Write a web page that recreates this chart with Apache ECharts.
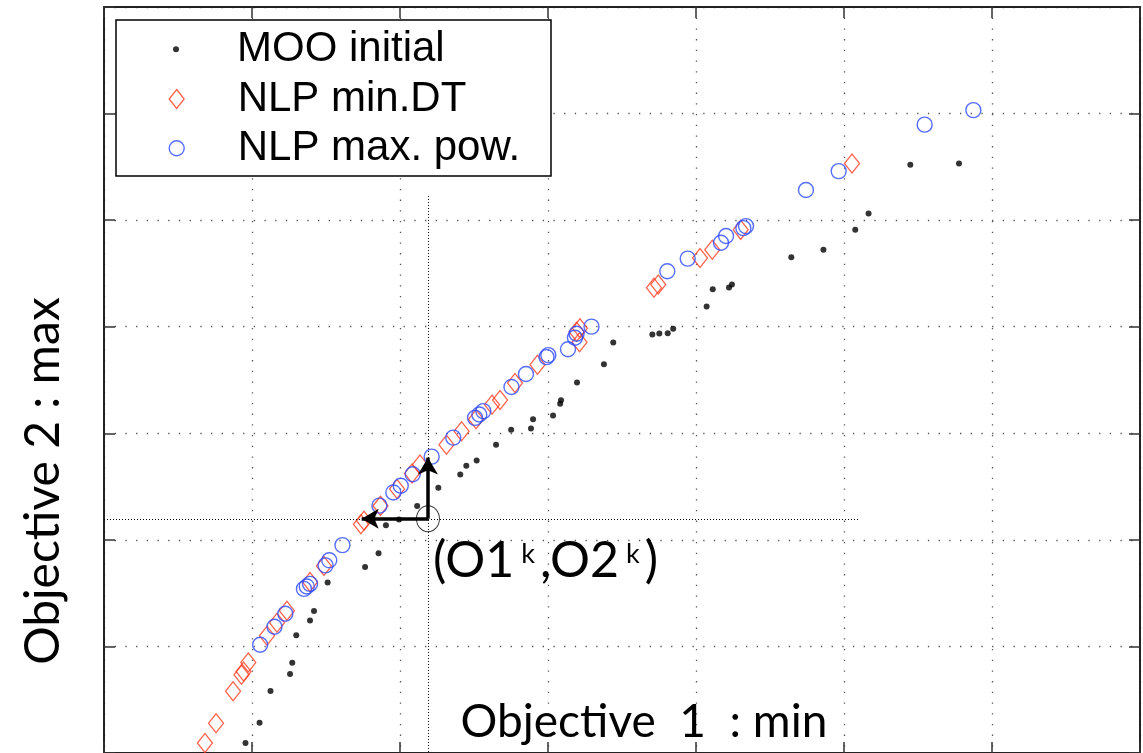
<!DOCTYPE html>
<html>
<head>
<meta charset="utf-8">
<style>
  html, body { margin: 0; padding: 0; background: #fff; }
  #main { width: 1143px; height: 753px; }
</style>
<script src="https://cdn.jsdelivr.net/npm/echarts@6/dist/echarts.min.js"></script>
</head>
<body>
<div id="main"></div>
<script>
// axes carry no numbers in the figure: one grid cell = one unit
const xMin = 0, xMax = 7, yMin = 0, yMax = 7, gridStep = 1;

// MOO initial front  [objective 1, objective 2]
const mooInitial = [
  [0.956, 0.093], [1.051, 0.285], [1.125, 0.581], [1.257, 0.742], [1.272, 0.847],
  [1.299, 1.106], [1.392, 1.244], [1.419, 1.332], [1.511, 1.599], [1.764, 1.745],
  [1.855, 1.874], [1.905, 2.136], [1.993, 2.191], [2.116, 2.317], [2.259, 2.489],
  [2.407, 2.613], [2.448, 2.695], [2.518, 2.744], [2.649, 2.893], [2.751, 3.033],
  [2.885, 3.046], [2.899, 3.131], [3.034, 3.167], [3.082, 3.276], [3.088, 3.311],
  [3.196, 3.477], [3.378, 3.647], [3.441, 3.852], [3.705, 3.927], [3.752, 3.936],
  [3.809, 3.939], [3.846, 3.981], [4.072, 4.189], [4.113, 4.352], [4.223, 4.368],
  [4.243, 4.396], [4.644, 4.651], [4.861, 4.723], [5.076, 4.909], [5.166, 5.063],
  [5.448, 5.519], [5.777, 5.532]
];

// NLP min. DT results
const nlpMinDT = [
  [0.682, 0.093], [0.757, 0.280], [0.872, 0.579], [0.929, 0.735], [0.943, 0.765],
  [0.975, 0.849], [1.101, 1.101], [1.169, 1.223], [1.236, 1.335], [1.392, 1.605],
  [1.486, 1.755], [1.736, 2.147], [1.757, 2.179], [1.868, 2.319], [1.980, 2.478],
  [2.081, 2.623], [2.135, 2.707], [2.314, 2.893], [2.416, 3.019], [2.514, 3.131],
  [2.622, 3.267], [2.676, 3.313], [2.777, 3.472], [2.929, 3.643], [3.193, 3.953],
  [3.213, 3.855], [3.216, 3.985], [3.716, 4.365], [3.745, 4.396], [4.027, 4.645],
  [4.110, 4.723], [4.302, 4.909], [5.054, 5.532]
];

// NLP max. power results
const nlpMaxPow = [
  [1.055, 1.016], [1.152, 1.185], [1.225, 1.307], [1.351, 1.540], [1.370, 1.563],
  [1.392, 1.587], [1.497, 1.761], [1.522, 1.808], [1.611, 1.951], [1.861, 2.321],
  [1.955, 2.445], [2.005, 2.508], [2.086, 2.616], [2.214, 2.781], [2.360, 2.959],
  [2.507, 3.145], [2.536, 3.176], [2.563, 3.208], [2.753, 3.435], [2.851, 3.556],
  [2.990, 3.715], [3.002, 3.733], [3.135, 3.789], [3.182, 3.897], [3.193, 3.934],
  [3.294, 4.001], [3.806, 4.520], [3.944, 4.639], [4.169, 4.788], [4.203, 4.851],
  [4.320, 4.925], [4.338, 4.944], [4.743, 5.283], [4.964, 5.460], [5.545, 5.896],
  [5.874, 6.032]
];

// reference point (O1k, O2k) and its guide lines / arrows
const refPoint = [2.189, 2.198];
const guideHEnd = 5.095;     // horizontal dotted guide ends at this objective 1
const guideVTop = 5.227;     // vertical dotted guide starts at this objective 2
const arrowLeftTo = 1.741;   // arrow towards lower objective 1
const arrowUpTo = 2.772;     // arrow towards higher objective 2

const RED = '#ff3a1e';
const BLUE = '#2a48ff';
const FONT_TITLE = 'Lato';

const chart = echarts.init(document.getElementById('main'));

function frameAxis(extra) {
  return Object.assign({
    type: 'value',
    min: xMin, max: xMax, interval: gridStep,
    axisLine: { show: true, onZero: false, lineStyle: { color: '#222', width: 2 } },
    axisTick: { show: true, inside: true, length: 11, lineStyle: { color: '#333', width: 1.5 } },
    axisLabel: { show: false },
    splitLine: { show: false }
  }, extra);
}

const dotGrid = { show: true, lineStyle: { color: '#555', width: 1.3, type: [1.3, 9.4] } };

chart.setOption({
  animation: false,
  grid: { left: 104, right: 3, top: 7, bottom: -4 },
  xAxis: [
    frameAxis({
      position: 'bottom',
      splitLine: dotGrid,
      name: 'Objective  1  : min',
      nameLocation: 'middle',
      nameGap: -54,
      nameTextStyle: { fontFamily: FONT_TITLE, fontSize: 46, color: '#000', padding: [0, 0, 0, 44] }
    }),
    frameAxis({ position: 'top' })
  ],
  yAxis: [
    frameAxis({
      min: yMin, max: yMax,
      position: 'left',
      splitLine: dotGrid,
      name: 'Objective 2 : max',
      nameLocation: 'middle',
      nameGap: 36,
      nameTextStyle: { fontFamily: FONT_TITLE, fontSize: 48, color: '#000', padding: [0, 202, 0, 0] }
    }),
    frameAxis({ min: yMin, max: yMax, position: 'right' })
  ],
  legend: [
    {
      data: ['MOO initial'], left: 173, top: 28.3, padding: 0,
      itemWidth: 6, itemHeight: 6, icon: 'circle', selectedMode: false, z: 6,
      itemStyle: { color: '#000', borderWidth: 0 },
      textStyle: { fontFamily: 'Liberation Sans', fontSize: 42, lineHeight: 42, color: '#000', padding: [0, 0, 0, 53] }
    },
    {
      data: ['NLP min.DT'], left: 168.5, top: 78, padding: 0,
      itemWidth: 15, itemHeight: 19, icon: 'diamond', selectedMode: false, z: 6,
      itemStyle: { color: 'rgba(0,0,0,0)', borderColor: RED, borderWidth: 1.3 },
      textStyle: { fontFamily: 'Liberation Sans', fontSize: 42, lineHeight: 42, color: '#000', padding: [0, 0, 0, 48.5] }
    },
    {
      data: ['NLP max. pow.'], left: 168.5, top: 127.3, padding: 0,
      itemWidth: 15, itemHeight: 15, icon: 'circle', selectedMode: false, z: 6,
      itemStyle: { color: 'rgba(0,0,0,0)', borderColor: BLUE, borderWidth: 1.4 },
      textStyle: { fontFamily: 'Liberation Sans', fontSize: 42, lineHeight: 42, color: '#000', padding: [0, 0, 0, 48.5] }
    }
  ],
  graphic: [
    {
      type: 'rect', z: 4,
      shape: { x: 116, y: 20, width: 435, height: 156 },
      style: { fill: '#fff', stroke: '#000', lineWidth: 1.5 }
    }
  ],
  series: [
    {
      name: 'MOO initial', type: 'scatter', data: mooInitial,
      symbol: 'circle', symbolSize: 6, silent: true,
      itemStyle: { color: '#000' }
    },
    {
      name: 'NLP min.DT', type: 'scatter', data: nlpMinDT,
      symbol: 'diamond', symbolSize: [15, 19], silent: true,
      itemStyle: { color: 'rgba(0,0,0,0)', borderColor: RED, borderWidth: 1.3 }
    },
    {
      name: 'NLP max. pow.', type: 'scatter', data: nlpMaxPow,
      symbol: 'circle', symbolSize: 15, silent: true,
      itemStyle: { color: 'rgba(0,0,0,0)', borderColor: BLUE, borderWidth: 1.4 }
    },
    {
      name: 'reference', type: 'scatter', data: [refPoint], z: 5,
      symbol: 'path://M0,13 A11.5,13 0 1,1 23,13 A11.5,13 0 1,1 0,13 Z',
      symbolSize: [23, 26], symbolKeepAspect: false, silent: true,
      itemStyle: { color: 'rgba(0,0,0,0)', borderColor: '#000', borderWidth: 1 },
      label: {
        show: true, position: 'inside', align: 'left', verticalAlign: 'middle',
        offset: [3, 42], color: '#000', opacity: 1, textBorderWidth: 0,
        formatter: '{a|(O1}{k|k}{a|,O2}{k|k}{a|)}',
        rich: {
          a: { fontFamily: FONT_TITLE, fontSize: 50, lineHeight: 52, color: '#000', padding: [0, 2, 0, 2] },
          k: { fontFamily: FONT_TITLE, fontSize: 27, lineHeight: 27, color: '#000', verticalAlign: 'top', padding: [6, 3, 0, 5] }
        }
      },
      markLine: {
        silent: true, animation: false, symbol: ['none', 'none'],
        label: { show: false },
        data: [
          [{ coord: [xMin, refPoint[1]], lineStyle: { color: '#000', width: 1, type: [1, 2] } },
           { coord: [guideHEnd, refPoint[1]] }],
          [{ coord: [refPoint[0], guideVTop], lineStyle: { color: '#000', width: 1, type: [1, 2] } },
           { coord: [refPoint[0], yMin] }],
          [{ coord: refPoint, lineStyle: { color: '#000', width: 3.5, type: 'solid' } },
           { coord: [arrowLeftTo, refPoint[1]], symbol: 'arrow', symbolSize: [15, 17] }],
          [{ coord: refPoint, lineStyle: { color: '#000', width: 3.5, type: 'solid' } },
           { coord: [refPoint[0], arrowUpTo], symbol: 'arrow', symbolSize: [15, 17] }]
        ]
      }
    }
  ]
});
</script>
</body>
</html>
